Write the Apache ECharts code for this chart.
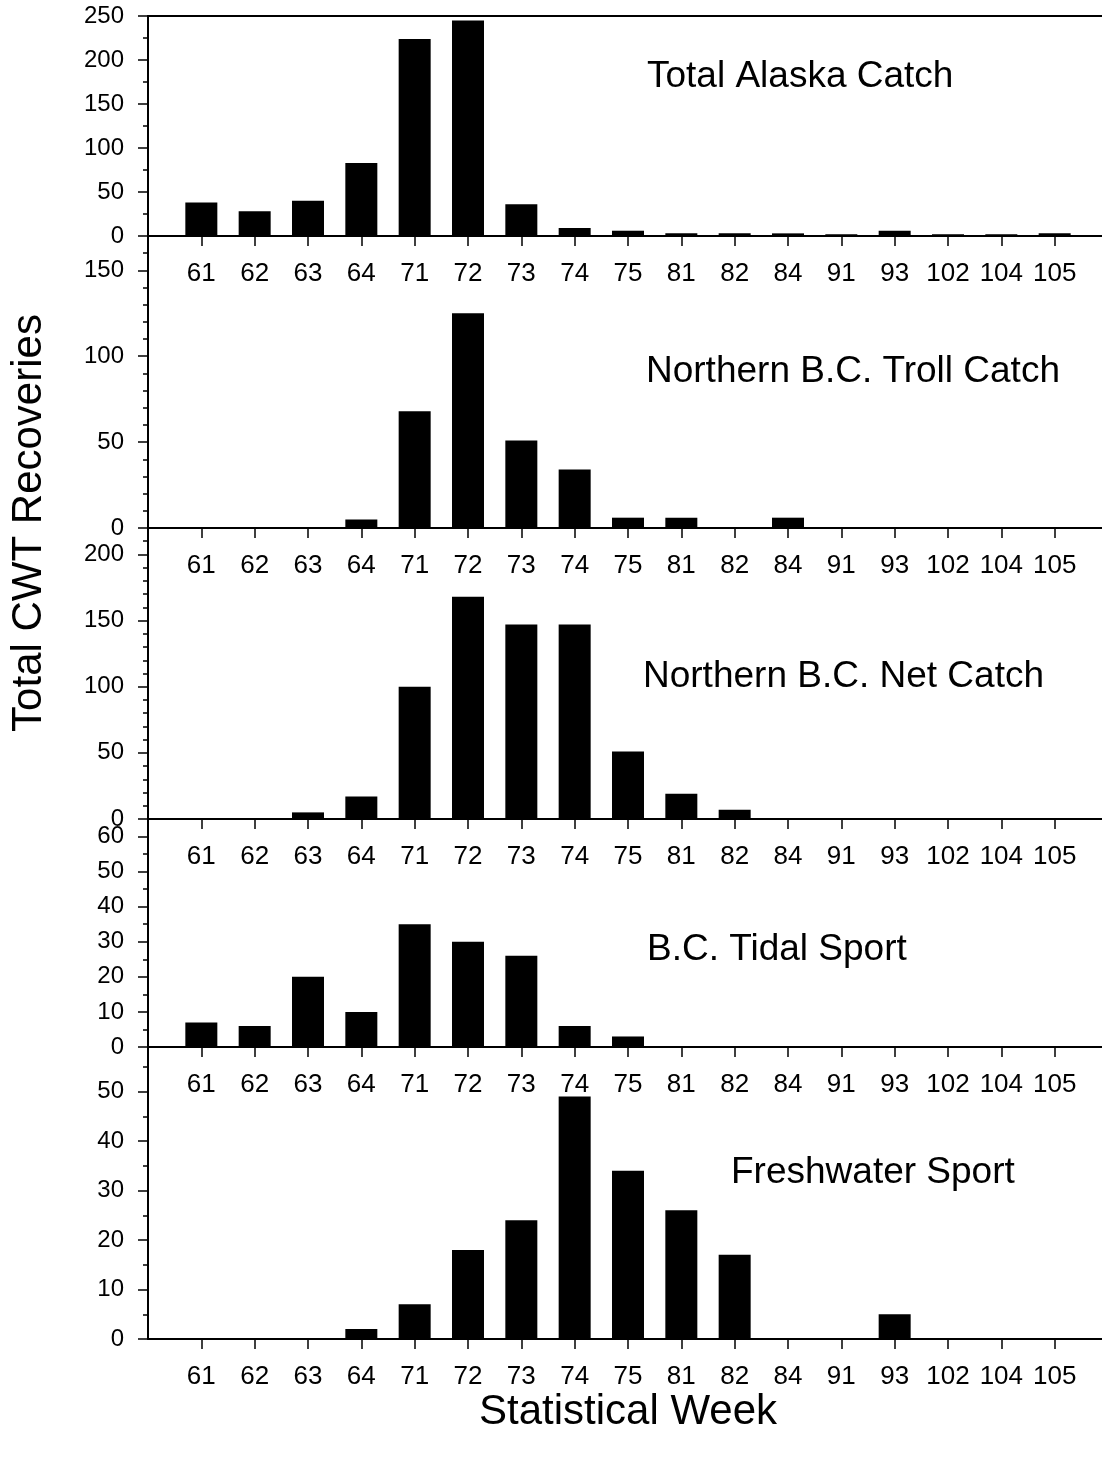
<!DOCTYPE html>
<html>
<head>
<meta charset="utf-8">
<title>Total CWT Recoveries by Statistical Week</title>
<script src="https://cdn.jsdelivr.net/npm/echarts@6/dist/echarts.min.js"></script>
<style>
  html, body { margin: 0; padding: 0; background: #fff; }
  #chart { width: 1102px; height: 1461px; }
</style>
</head>
<body>
<div id="chart"></div>
<script>
// Statistical weeks shown along every panel's x-axis
const weeks = ['61', '62', '63', '64', '71', '72', '73', '74', '75', '81', '82', '84', '91', '93', '102', '104', '105'];

// CWT recoveries per statistical week, one array per fishery
const alaskaCatch = [38, 28, 40, 83, 224, 245, 36, 9, 6, 3, 3, 3, 2, 6, 2, 2, 3];
const trollCatch  = [0, 0, 0, 5, 68, 125, 51, 34, 6, 6, 0, 6, 0, 0, 0, 0, 0];
const netCatch    = [0, 0, 5, 17, 100, 168, 147, 147, 51, 19, 7, 0, 0, 0, 0, 0, 0];
const tidalSport  = [7, 6, 20, 10, 35, 30, 26, 6, 3, 0, 0, 0, 0, 0, 0, 0, 0];
const freshSport  = [0, 0, 0, 2, 7, 18, 24, 49, 34, 26, 17, 0, 0, 5, 0, 0, 0];

const panelNames = ['Total Alaska Catch', 'Northern B.C. Troll Catch', 'Northern B.C. Net Catch', 'B.C. Tidal Sport', 'Freshwater Sport'];
const panelValues = [alaskaCatch, trollCatch, netCatch, tidalSport, freshSport];

// y scale of each panel: top of range, labelled step, minor tick step
const yMax   = [250, 170, 220, 65, 59];
const yMajor = [50, 50, 50, 10, 10];
const yMinor = [25, 10, 10, 5, 5];

// Panel layout (pixels)
const gridTop    = [16, 236, 528, 819, 1047];
const gridHeight = [220, 292, 291, 228, 292];
const nameX = [647, 646, 643, 647, 731];
const nameY = [73, 368, 673, 946, 1169];

const FONT = "'Liberation Sans', Arial, Helvetica, sans-serif";
const INK = '#000';
const positions = weeks.map((_, i) => i + 1);

const grids = [], xAxes = [], yAxes = [], series = [], graphics = [];

panelValues.forEach((values, i) => {
  grids.push({
    left: 148, width: 960, top: gridTop[i], height: gridHeight[i],
    containLabel: false, outerBoundsMode: 'none'
  });

  xAxes.push({
    type: 'value', gridIndex: i, min: 0, max: 18, position: 'bottom',
    axisLine: { show: true, onZero: false, lineStyle: { color: INK, width: 2 } },
    axisTick: { show: true, customValues: positions, length: 10, lineStyle: { color: INK, width: 1.5 } },
    axisLabel: {
      show: true, customValues: positions, margin: 25,
      formatter: v => weeks[Math.round(v) - 1] || '',
      color: INK, fontSize: 26, fontFamily: FONT
    },
    splitLine: { show: false }
  });

  // labelled ticks
  yAxes.push({
    type: 'value', gridIndex: i, min: 0, max: yMax[i], interval: yMajor[i], position: 'left',
    axisLine: { show: true, onZero: false, lineStyle: { color: INK, width: 2 } },
    axisTick: { show: true, length: 10, lineStyle: { color: INK, width: 1.5 } },
    axisLabel: {
      show: true, margin: 24, color: INK, fontSize: 24, fontFamily: FONT,
      showMaxLabel: true, showMinLabel: true,
      formatter: v => (v % yMajor[i] === 0 ? String(v) : '')
    },
    splitLine: { show: false }
  });
  // short minor ticks
  yAxes.push({
    type: 'value', gridIndex: i, min: 0, max: yMax[i], interval: yMinor[i], position: 'left',
    axisLine: { show: false, onZero: false },
    axisTick: { show: true, length: 5, lineStyle: { color: INK, width: 1.5 } },
    axisLabel: { show: false },
    splitLine: { show: false }
  });

  series.push({
    type: 'bar', name: panelNames[i], xAxisIndex: i, yAxisIndex: 2 * i,
    data: values.map((v, j) => [positions[j], v]),
    barWidth: 32, silent: true,
    itemStyle: { color: INK }
  });

  graphics.push({
    type: 'text', left: nameX[i], top: nameY[i] - 15, silent: true,
    style: { text: panelNames[i], font: `37px ${FONT}`, fill: INK }
  });
});

// frame line across the top of the first panel
xAxes.push({
  type: 'value', gridIndex: 0, min: 0, max: 18, position: 'top',
  axisLine: { show: true, onZero: false, lineStyle: { color: INK, width: 2 } },
  axisTick: { show: false }, axisLabel: { show: false }, splitLine: { show: false }
});

// axis titles
graphics.push({
  type: 'text', x: 29, y: 523, rotation: Math.PI / 2, silent: true,
  style: { text: 'Total CWT Recoveries', font: `42px ${FONT}`, fill: INK, align: 'center', verticalAlign: 'middle' }
});
graphics.push({
  type: 'text', x: 628, y: 1412, silent: true,
  style: { text: 'Statistical Week', font: `42px ${FONT}`, fill: INK, align: 'center', verticalAlign: 'middle' }
});

const chart = echarts.init(document.getElementById('chart'), null, { renderer: 'canvas' });
chart.setOption({
  animation: false,
  backgroundColor: '#fff',
  grid: grids,
  xAxis: xAxes,
  yAxis: yAxes,
  series: series,
  graphic: graphics
});
</script>
</body>
</html>
